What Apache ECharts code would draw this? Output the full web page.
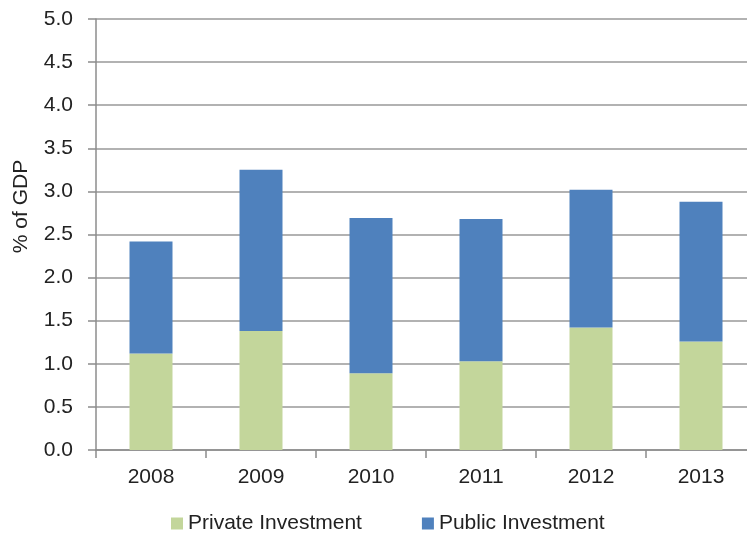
<!DOCTYPE html>
<html>
<head>
<meta charset="utf-8">
<script src="https://cdn.jsdelivr.net/npm/echarts@6/dist/echarts.min.js"></script>
<style>
  html, body { margin: 0; padding: 0; background: #fff; }
  #chart { width: 747px; height: 537px; }
</style>
</head>
<body>
<div id="chart"></div>
<script>
const years = ['2008', '2009', '2010', '2011', '2012', '2013'];
const privateInv = [1.12, 1.38, 0.89, 1.03, 1.42, 1.26];
const publicInv = [1.30, 1.87, 1.80, 1.65, 1.60, 1.62];
const seriesNames = ['Private Investment', 'Public Investment'];

const chart = echarts.init(document.getElementById('chart'));

const font = 'Liberation Sans, Arial, sans-serif';

let option = {
  color: ['#c3d69b', '#4f81bd'],
  textStyle: { fontFamily: font },
  animation: false,
  grid: {
    left: 96,
    right: -9,
    top: 19,
    bottom: 87,
    outerBoundsMode: 'none'
  },
  legend: {
    data: seriesNames,
    bottom: -2,
    left: 166,
    itemWidth: 12,
    itemHeight: 12,
    itemGap: 60,
    icon: 'rect',
    textStyle: { fontSize: 21, color: '#222', fontFamily: font }
  },
  xAxis: {
    type: 'category',
    data: years,
    axisLine: { lineStyle: { color: '#8c8c8c', width: 1.5 } },
    axisTick: { show: true, length: 8, lineStyle: { color: '#8c8c8c', width: 1.5 } },
    axisLabel: { fontSize: 21, color: '#222', margin: 17, fontFamily: font }
  },
  yAxis: {
    type: 'value',
    min: 0,
    max: 5,
    interval: 0.5,
    name: '% of GDP',
    nameLocation: 'middle',
    nameGap: 64,
    nameMoveOverlap: false,
    nameTextStyle: { fontSize: 21, color: '#222', fontFamily: font, padding: [0, 0, 0, 56] },
    axisLine: { show: true, lineStyle: { color: '#8c8c8c', width: 1.5 } },
    axisTick: { show: true, length: 8, lineStyle: { color: '#8c8c8c', width: 1.5 } },
    axisLabel: {
      fontSize: 21, color: '#222', margin: 23, fontFamily: font,
      formatter: v => v.toFixed(1)
    },
    splitLine: { lineStyle: { color: '#999', width: 1.5 } }
  },
  series: [
    {
      name: seriesNames[0],
      type: 'bar',
      stack: 'inv',
      barWidth: 43,
      data: privateInv
    },
    {
      name: seriesNames[1],
      type: 'bar',
      stack: 'inv',
      barWidth: 43,
      data: publicInv
    }
  ]
};

chart.setOption(option);
</script>
</body>
</html>
